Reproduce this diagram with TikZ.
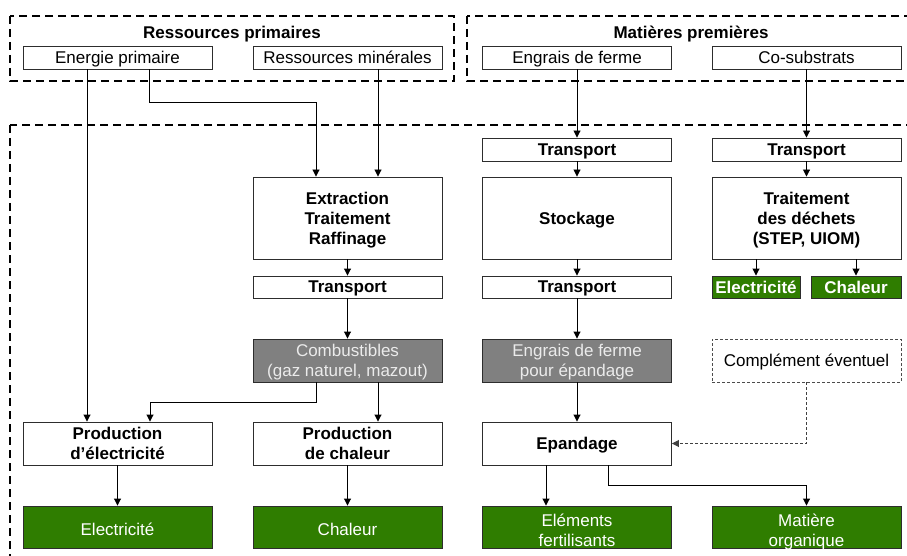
\documentclass[tikz,border=0pt]{standalone}
\usepackage{fontspec}
\setmainfont{Liberation Sans}
\usetikzlibrary{arrows.meta,calc}
\definecolor{leaf}{RGB}{47,125,0}
\definecolor{fuel}{RGB}{128,128,128}
\definecolor{edge}{RGB}{45,45,45}
\begin{document}
\begin{tikzpicture}[x=1pt,y=-1pt,
  font=\fontsize{17}{20}\selectfont,
  box/.style={draw=edge,line width=0.9pt,fill=white,inner sep=0pt,align=center,text depth=0pt,minimum width=189pt},
  bbox/.style={box,font=\fontsize{17}{20}\selectfont\bfseries},
  greybox/.style={box,fill=fuel,text=white!92!black},
  greenbox/.style={box,fill=leaf,text=white},
  gone/.style={greenbox,text height=16pt},
  gtwo/.style={greenbox,text height=38pt},
  title/.style={font=\fontsize{17}{20}\selectfont\bfseries,inner sep=0pt,text depth=0pt},
  group/.style={line width=1.8pt,dash pattern=on 8pt off 5pt},
  arr/.style={line width=0.9pt,-{Triangle[length=7pt,width=7pt]}},
  darr/.style={arr,draw=black!75,dash pattern=on 3pt off 2pt}]
\useasboundingbox (0,0) rectangle (907,556);
\begin{scope}
\clip (0,0) rectangle (907,556);
\draw[group] (10,16) rectangle (454,81);
\draw[group] (467,16) rectangle (930,81);
\draw[group] (10,125) rectangle (930,580);
\end{scope}
\node[title] (t1) at (232,32) {Ressources primaires};
\node[title] (t2) at (691,32) {Matières premières};
% top row
\node[box,minimum height=23pt] (ep) at (117.5,57.5) {Energie primaire};
\node[box,minimum height=23pt] (rm) at (347.5,57.5) {Ressources minérales};
\node[box,minimum height=23pt] (ef) at (577,57.5) {Engrais de ferme};
\node[box,minimum height=23pt] (cs) at (806.5,57.5) {Co-substrats};
% transports row 1
\node[bbox,minimum height=23pt] (tr3) at (577,149.5) {Transport};
\node[bbox,minimum height=23pt] (tr4) at (806.5,149.5) {Transport};
% big boxes
\node[bbox,minimum height=82pt] (ex) at (347.5,218) {Extraction\\Traitement\\Raffinage};
\node[bbox,minimum height=82pt] (st) at (577,218) {Stockage};
\node[bbox,minimum height=82pt] (td) at (806.5,218) {Traitement\\des déchets\\(STEP, UIOM)};
% transports row 2
\node[bbox,minimum height=22pt] (tr2) at (347.5,287) {Transport};
\node[bbox,minimum height=22pt] (tr3b) at (577,287) {Transport};
\node[greenbox,font=\fontsize{17}{20}\selectfont\bfseries,minimum width=88pt,minimum height=22pt] (se) at (756,287) {Electricité};
\node[greenbox,font=\fontsize{17}{20}\selectfont\bfseries,minimum width=90pt,minimum height=22pt] (sc) at (856,287) {Chaleur};
% grey row
\node[greybox,minimum height=43pt] (cb) at (347.5,360.5) {Combustibles\\(gaz naturel, mazout)};
\node[greybox,minimum height=43pt] (ee) at (577,360.5) {Engrais de ferme\\pour épandage};
\node[box,draw=black!70,dash pattern=on 3pt off 2pt,line width=0.8pt,minimum height=43pt] (ce) at (806.5,360.5) {Complément éventuel};
% production row
\node[bbox,minimum height=43pt] (pe) at (117.5,443.5) {Production\\d’électricité};
\node[bbox,minimum height=43pt] (pc) at (347.5,443.5) {Production\\de chaleur};
\node[bbox,minimum height=43pt] (epa) at (577,443.5) {Epandage};
% green row
\node[gone,minimum height=42pt] (ge) at (117.5,527) {Electricité};
\node[gone,minimum height=42pt] (gc) at (347.5,527) {Chaleur};
\node[gtwo,minimum height=42pt] (gf) at (577,527) {Eléments\\fertilisants};
\node[gtwo,minimum height=42pt] (gm) at (806.5,527) {Matière\\organique};
% helper points on node borders
\coordinate (epL) at ([xshift=-30.5]ep.south);
\coordinate (epR) at ([xshift=31.5]ep.south);
\coordinate (rmR) at ([xshift=30.5]rm.south);
\coordinate (exL) at ([xshift=-31.5]ex.north);
\coordinate (exR) at ([xshift=30.5]ex.north);
\coordinate (cbL) at ([xshift=-31.5]cb.south);
\coordinate (cbR) at ([xshift=30.5]cb.south);
\coordinate (peR) at ([xshift=32.5]pe.north);
\coordinate (epaL) at ([xshift=-31]epa.south);
\coordinate (epaR) at ([xshift=31]epa.south);
\coordinate (k1) at ($(epR)+(0,33)$);
\coordinate (k2) at ($(cbL)+(0,20)$);
\coordinate (k3) at ($(epaR)+(0,20)$);
% connectors
\draw[arr] (epL) -- (epL |- pe.north);
\draw[arr] (epR) -- (k1) -- (k1 -| exL) -- (exL);
\draw[arr] (rmR) -- (exR);
\draw[arr] (ex) -- (tr2);
\draw[arr] (tr2) -- (cb);
\draw[arr] (cbL) -- (k2) -- (k2 -| peR) -- (peR);
\draw[arr] (cbR) -- (cbR |- pc.north);
\draw[arr] (pe) -- (ge);
\draw[arr] (pc) -- (gc);
\draw[arr] (ef) -- (tr3);
\draw[arr] (tr3) -- (st);
\draw[arr] (st) -- (tr3b);
\draw[arr] (tr3b) -- (ee);
\draw[arr] (ee) -- (epa);
\draw[arr] (epaL) -- (epaL |- gf.north);
\draw[arr] (epaR) -- (k3) -- (k3 -| gm.north) -- (gm.north);
\draw[darr] (ce.south) |- (epa.east);
\draw[arr] (cs) -- (tr4);
\draw[arr] (tr4) -- (td);
\draw[arr] (td.south -| se.north) -- (se.north);
\draw[arr] (td.south -| sc.north) -- (sc.north);
\end{tikzpicture}
\end{document}
